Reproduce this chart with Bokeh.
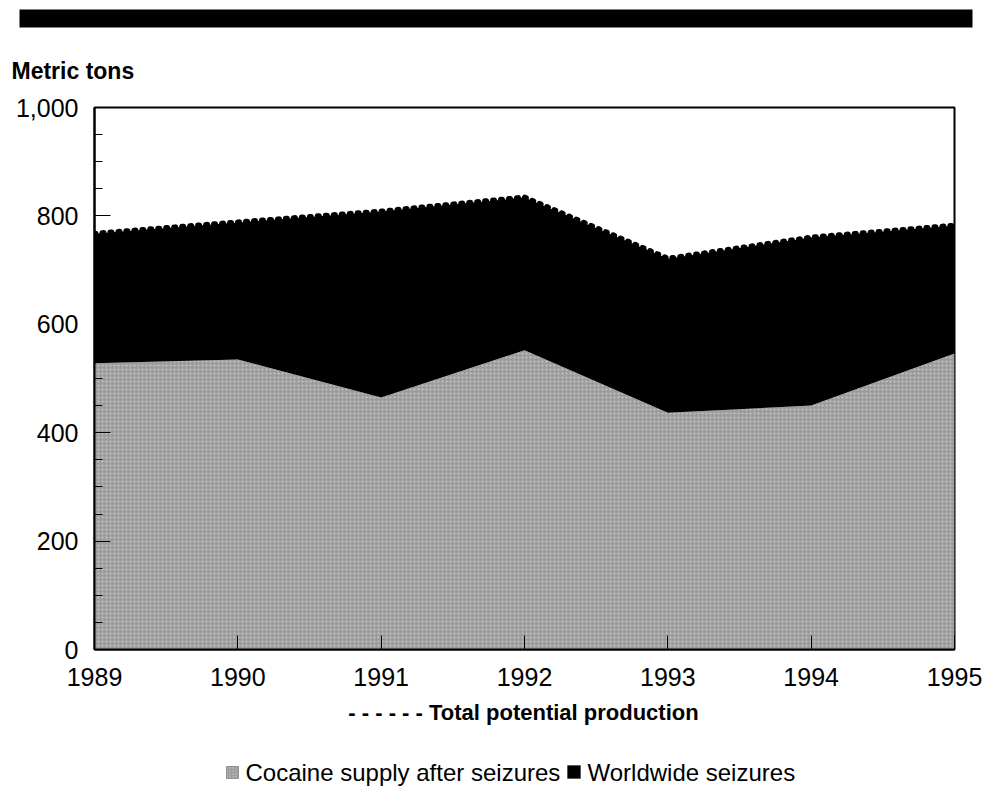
from bokeh.plotting import figure
from bokeh.layouts import column
from bokeh.models import Range1d, FixedTicker, NumeralTickFormatter, Label, BoxAnnotation, ColumnDataSource
from bokeh.embed import file_html
from bokeh.resources import INLINE

# ---- data ----
years = [1989, 1990, 1991, 1992, 1993, 1994, 1995]
supply_after_seizures = [528, 535, 465, 552, 437, 450, 546]
total_potential_production = [767, 788, 808, 834, 721, 760, 782]
y_major_ticks = [0, 200, 400, 600, 800, 1000]
y_minor_ticks = [50, 100, 150, 250, 300, 350, 450, 500, 550, 650, 700, 750, 850, 900, 950]
x_ticks = years
unit_label = "Metric tons"
line_legend = "- - - - - - Total potential production"
legend_supply = "Cocaine supply after seizures"
legend_seizures = "Worldwide seizures"

FONT = "Liberation Sans"
GRAY = "#9c9c9c"
W = 990
FRAME_L, FRAME_R = 94, 954


def blank_fig(height):
    f = figure(width=W, height=height, output_backend="svg", toolbar_location=None,
               x_axis_type=None, y_axis_type=None, min_border=0)
    try:
        f.frame_align = False
        f.x_range = Range1d(0, W)
    except Exception:
        f.x_range = Range1d(FRAME_L, FRAME_R)
    f.y_range = Range1d(height, 0)
    f.title.visible = False
    f.xgrid.visible = False
    f.ygrid.visible = False
    f.outline_line_color = None
    f.background_fill_color = "white"
    f.border_fill_color = "white"
    return f


def text_label(x, y, text, size, bold=False, align="left"):
    return Label(x=x, y=y, text=text, text_font=FONT, text_font_size=size,
                 text_font_style="bold" if bold else "normal", text_color="black",
                 text_baseline="middle", text_align=align)


# ---- header: black rule and unit label ----
top = blank_fig(95)
top.add_layout(BoxAnnotation(left=19, right=972, top=9, bottom=27,
                             fill_color="black", fill_alpha=1, line_color=None))
top.add_layout(text_label(11, 70, unit_label, "23px", bold=True))

# ---- main chart ----
src = ColumnDataSource(dict(
    year=years,
    supply=supply_after_seizures,
    total=total_potential_production,
    zero=[0] * len(years),
))

p = figure(width=W, height=605, output_backend="svg", toolbar_location=None,
           x_range=Range1d(years[0], years[-1]), y_range=Range1d(0, 1000),
           min_border_left=FRAME_L, min_border_right=W - FRAME_R, min_border_top=12, min_border_bottom=51)
p.title.visible = False
p.xgrid.visible = False
p.ygrid.visible = False
p.background_fill_color = "white"
p.border_fill_color = "white"
p.outline_line_color = "black"
p.outline_line_width = 2

p.varea(x="year", y1="zero", y2="supply", source=src, fill_color=GRAY,
        hatch_pattern=".", hatch_color="white", hatch_alpha=0.45, hatch_scale=4, hatch_weight=1)
p.varea(x="year", y1="supply", y2="total", source=src, fill_color="black")
p.line(x="year", y="total", source=src, line_color="black", line_width=6,
       line_dash="1 7", line_cap="round")

xa = p.xaxis[0]
xa.ticker = FixedTicker(ticks=x_ticks)
xa.major_tick_in = 14
xa.major_tick_out = 0
xa.minor_tick_in = 0
xa.minor_tick_out = 0
xa.axis_line_width = 2
xa.major_label_standoff = 18
xa.major_label_text_font = FONT
xa.major_label_text_font_size = "25px"
xa.major_label_text_color = "black"

ya = p.yaxis[0]
ya.ticker = FixedTicker(ticks=y_major_ticks, minor_ticks=y_minor_ticks)
ya.formatter = NumeralTickFormatter(format="0,0")
ya.major_tick_in = 16
ya.major_tick_out = 0
ya.minor_tick_in = 8
ya.minor_tick_out = 0
ya.axis_line_width = 2
ya.major_label_standoff = 16
ya.major_label_text_font = FONT
ya.major_label_text_font_size = "25px"
ya.major_label_text_color = "black"

# ---- footer: legends ----
bot = blank_fig(87)
bot.add_layout(text_label(523, 12, line_legend, "22px", bold=True, align="center"))
bot.add_layout(BoxAnnotation(left=226, right=238, top=66, bottom=78,
                             fill_color=GRAY, fill_alpha=1, line_color="black", line_width=1,
                             hatch_pattern=".", hatch_color="white", hatch_alpha=0.45, hatch_scale=3))
bot.add_layout(text_label(245, 72, legend_supply, "24px"))
bot.add_layout(BoxAnnotation(left=567, right=580, top=65, bottom=78,
                             fill_color="black", fill_alpha=1, line_color="black"))
bot.add_layout(text_label(587, 72, legend_seizures, "24px"))

layout = column(top, p, bot, spacing=0)
open("out.html", "w").write(file_html(layout, INLINE))
